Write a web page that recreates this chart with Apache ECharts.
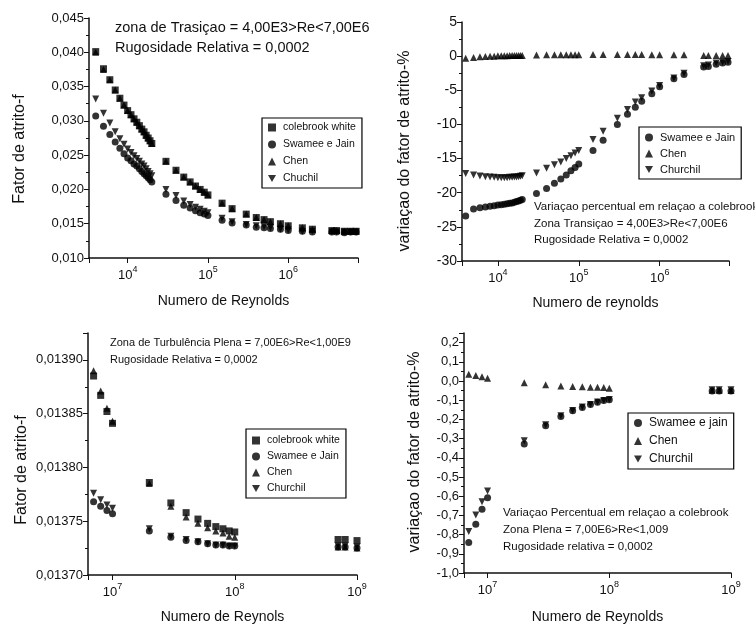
<!DOCTYPE html>
<html><head><meta charset="utf-8">
<script src="https://cdn.jsdelivr.net/npm/echarts@6/dist/echarts.min.js"></script>
<style>html,body{margin:0;padding:0;background:#fff}#c{width:755px;height:630px}</style>
</head><body><div id="c"></div>
<script>
// ---------- Transition zone (top panels) ----------
const reT = [4000,5000,6000,7000,8000,9000,10000,11000,12000,13000,14000,15000,16000,17000,18000,19000,20000,
  30000,40000,50000,60000,70000,80000,90000,100000,
  150000,200000,300000,400000,500000,600000,800000,1000000,1500000,2000000,3500000,4000000,5000000,6000000,7000000];
const colebrookT = [0.0401,0.0376,0.0360,0.0345,0.0333,0.0323,0.0315,0.0309,0.0303,0.0298,0.0293,0.0288,0.0284,0.0279,0.0275,0.0271,0.0267,
  0.0241,0.0228,0.0218,0.0211,0.0205,0.0200,0.0196,0.0192,
  0.0180,0.0172,0.0164,0.0159,0.0156,0.0153,0.0150,0.0147,0.0144,0.0142,0.0140,0.0140,0.0139,0.0139,0.0139];
const swameeT = [0.0307,0.0292,0.0280,0.0269,0.0260,0.0252,0.0246,0.0242,0.0237,0.0234,0.0230,0.0226,0.0223,0.0220,0.0217,0.0214,0.0211,
  0.0193,0.0184,0.0177,0.0173,0.0169,0.0166,0.0164,0.0162,
  0.0155,0.0151,0.0148,0.0145,0.0144,0.0143,0.0142,0.0140,0.0139,0.0138,0.0138,0.0138,0.0137,0.0138,0.0138];
const chenT = [0.0400,0.0375,0.0360,0.0345,0.0333,0.0323,0.0315,0.0309,0.0303,0.0298,0.0293,0.0288,0.0284,0.0279,0.0275,0.0271,0.0267,
  0.0241,0.0228,0.0218,0.0211,0.0205,0.0200,0.0196,0.0192,
  0.0180,0.0172,0.0164,0.0159,0.0156,0.0153,0.0150,0.0147,0.0144,0.0142,0.0140,0.0140,0.0139,0.0139,0.0139];
const churchillT = [0.0332,0.0311,0.0297,0.0284,0.0274,0.0266,0.0259,0.0254,0.0249,0.0245,0.0241,0.0237,0.0234,0.0230,0.0226,0.0223,0.0220,
  0.0200,0.0191,0.0183,0.0178,0.0174,0.0171,0.0168,0.0166,
  0.0158,0.0153,0.0149,0.0147,0.0146,0.0144,0.0142,0.0141,0.0139,0.0139,0.0138,0.0138,0.0138,0.0138,0.0138];
const swameePctT = [-23.4,-22.4,-22.2,-22.1,-22.0,-21.9,-21.8,-21.75,-21.7,-21.6,-21.55,-21.5,-21.4,-21.3,-21.2,-21.1,-21.0,
  -20.1,-19.4,-18.6,-18.0,-17.4,-16.8,-16.3,-15.8,
  -13.8,-12.3,-10.0,-8.5,-7.5,-6.6,-5.5,-4.5,-3.3,-2.7,-1.6,-1.5,-1.2,-1.0,-0.9];
const chenPctT = [-0.3,-0.2,-0.1,-0.05,0.0,0.0,0.05,0.05,0.05,0.05,0.1,0.1,0.1,0.1,0.1,0.1,0.1,
  0.15,0.2,0.2,0.2,0.2,0.2,0.2,0.2,
  0.25,0.25,0.25,0.25,0.25,0.25,0.2,0.2,0.2,0.2,0.1,0.1,0.1,0.1,0.1];
const churchillPctT = [-17.2,-17.4,-17.55,-17.65,-17.7,-17.75,-17.8,-17.8,-17.8,-17.8,-17.75,-17.75,-17.7,-17.7,-17.65,-17.6,-17.5,
  -17.1,-16.4,-15.9,-15.5,-15.0,-14.6,-14.2,-13.8,
  -12.2,-11.0,-9.1,-7.8,-6.7,-6.1,-5.1,-4.3,-3.2,-2.5,-1.4,-1.3,-1.0,-0.9,-0.8];

// ---------- Full turbulence zone (bottom panels) ----------
const reP = [7e6,8e6,9e6,1e7,2e7,3e7,4e7,5e7,6e7,7e7,8e7,9e7,1e8,7e8,8e8,1e9];
const colebrookP = [0.013885,0.013867,0.013852,0.013841,0.013786,0.013767,0.013758,0.013752,0.013748,0.013745,0.013743,0.013741,0.013740,0.013733,0.013733,0.013732];
const swameeP = [0.013768,0.013764,0.013760,0.013757,0.013741,0.013735,0.013732,0.013731,0.013729,0.013728,0.013728,0.013727,0.013727,0.013726,0.013726,0.013725];
const chenP = [0.013890,0.013871,0.013855,0.013843,0.013785,0.013764,0.013754,0.013748,0.013744,0.013741,0.013739,0.013736,0.013735,0.013726,0.013726,0.013725];
const churchillP = [0.013776,0.013770,0.013765,0.013762,0.013743,0.013736,0.013733,0.013731,0.013729,0.013728,0.013728,0.013727,0.013727,0.013727,0.013727,0.013726];
const swameePctP = [-0.841,-0.746,-0.668,-0.608,-0.328,-0.233,-0.185,-0.155,-0.138,-0.123,-0.111,-0.102,-0.098,-0.052,-0.052,-0.052];
const chenPctP = [0.035,0.028,0.022,0.014,-0.009,-0.020,-0.026,-0.029,-0.030,-0.033,-0.033,-0.034,-0.038,-0.048,-0.048,-0.050];
const churchillPctP = [-0.784,-0.698,-0.629,-0.573,-0.311,-0.228,-0.181,-0.153,-0.136,-0.122,-0.110,-0.101,-0.097,-0.045,-0.045,-0.046];

const FONT = '"Liberation Sans", Arial, sans-serif';
const INK = '#111';
const DOWN = 'path://M0,0L10,0L5,9Z';

function zip(xs, ys){ return xs.map((x,i)=>[x, ys[i]]); }

function logAxis(idx, min, max, name, gap){
  return {
    type:'log', gridIndex: idx, min, max, logBase:10,
    name, nameLocation:'middle', nameGap: gap,
    nameTextStyle:{fontFamily:FONT, fontSize:14, color:INK},
    axisLine:{show:true, onZero:false, lineStyle:{color:INK, width:1.5}},
    axisTick:{show:true, length:5, inside:false, lineStyle:{color:INK, width:1}},
    splitLine:{show:false},
    axisLabel:{
      color:INK, fontFamily:FONT, margin:7,
      formatter:function(v){
        const l = Math.log10(v), e = Math.round(l);
        if (Math.abs(l-e) > 1e-6) return '';
        return '{b|10}{s|' + e + '}';
      },
      rich:{
        b:{fontSize:13, fontFamily:FONT, color:INK, verticalAlign:'bottom', lineHeight:17},
        s:{fontSize:9, fontFamily:FONT, color:INK, verticalAlign:'top', lineHeight:9}
      }
    }
  };
}
function valAxis(idx, min, max, interval, dec, fs){
  return {
    type:'value', gridIndex: idx, min, max, interval,
    axisLine:{show:true, onZero:false, lineStyle:{color:INK, width:1.5}},
    axisTick:{show:true, length:5, lineStyle:{color:INK, width:1}},
    minorTick:{show:true, splitNumber:2, length:3, lineStyle:{color:INK, width:1}},
    splitLine:{show:false},
    axisLabel:{
      color:INK, fontFamily:FONT, fontSize:fs, margin:5,
      formatter:function(v){
        const k = (v - min)/interval;
        if (Math.abs(k - Math.round(k)) > 1e-6) return '';
        let s = (Math.abs(v) < interval/1000 ? 0 : v).toFixed(dec);
        return s.replace('.', ',');
      }
    }
  };
}
function sc(name, xi, yi, data, symbol, rot){
  return {
    type:'scatter', name, xAxisIndex: xi, yAxisIndex: yi, data,
    symbol, symbolSize: 7, symbolRotate: rot||0,
    itemStyle:{color:'#000'}, emphasis:{disabled:true}, silent:true
  };
}
function legend(names, left, top, fs, gap, pad){
  return {
    data: names, orient:'vertical', left, top, selectedMode:false,
    borderColor:'#000', borderWidth:1.2, borderRadius:0,
    padding: pad, itemGap: gap, itemWidth:8, itemHeight:8,
    textStyle:{fontFamily:FONT, fontSize:fs, color:INK, padding:[0,0,0,2]}
  };
}
function txt(x, y, text, fs){
  return {type:'text', x, y, silent:true,
    style:{text, fontFamily:FONT, fontSize:fs, fill:INK, verticalAlign:'middle', align:'left'}};
}
function vtxt(x, y, text, fs){
  return {type:'text', x, y, rotation:Math.PI/2, silent:true,
    style:{text, fontFamily:FONT, fontSize:fs, fill:INK, verticalAlign:'middle', align:'center'}};
}

const chart = echarts.init(document.getElementById('c'), null, {renderer:'canvas'});
chart.setOption({
  animation:false,
  backgroundColor:'#fff',
  grid:[
    {left:89, top:18, width:269, height:240},
    {left:462, top:22, width:267, height:239},
    {left:88, top:333, width:269, height:242},
    {left:464, top:333, width:267, height:240}
  ],
  xAxis:[
    logAxis(0, 3300, 7.4e6, 'Numero de Reynolds', 36),
    logAxis(1, 3600, 7.2e6, 'Numero de reynolds', 35),
    logAxis(2, 6.3e6, 1e9, 'Numero de Reynols', 35),
    logAxis(3, 6.4e6, 1e9, 'Numero de Reynolds', 37)
  ],
  yAxis:[
    valAxis(0, 0.010, 0.045, 0.005, 3, 13),
    valAxis(1, -30, 5, 5, 0, 14),
    valAxis(2, 0.0137, 0.013925, 0.00005, 5, 13),
    valAxis(3, -1.0, 0.25, 0.1, 1, 13)
  ],
  legend:[
    legend(['colebrook white','Swamee e Jain','Chen','Chuchil'], 262, 118, 10.5, 6, [4,6,4,6]),
    legend(['Swamee e Jain','Chen','Churchil'], 639, 127, 11, 5, [5,6,4,6]),
    legend(['colebrook white','Swamee e Jain','Chen','Churchil'], 246, 429, 10.5, 5, [6,6,4,6]),
    legend(['Swamee e jain','Chen','Churchil'], 628, 413, 12, 6, [4,6,4,6])
  ],
  graphic:[
    txt(115, 28, 'zona de Trasiçao = 4,00E3>Re<7,00E6', 14.5),
    txt(115, 48, 'Rugosidade Relativa = 0,0002', 14.5),
    txt(534, 207, 'Variaçao percentual em relaçao a colebrook', 11.5),
    txt(534, 224, 'Zona Transiçao = 4,00E3>Re<7,00E6', 11.5),
    txt(534, 240, 'Rugosidade Relativa = 0,0002', 11.5),
    txt(110, 343, 'Zona de Turbulência Plena = 7,00E6>Re<1,00E9', 11),
    txt(110, 360, 'Rugosidade Relativa = 0,0002', 11),
    txt(503, 513, 'Variaçao Percentual em relaçao a colebrook', 11.5),
    txt(503, 530, 'Zona Plena = 7,00E6>Re<1,009', 11.5),
    txt(503, 547, 'Rugosidade relativa = 0,0002', 11.5),
    vtxt(20, 149, 'Fator de atrito-f', 16),
    vtxt(405, 151, 'variaçao do fator de atrito-%', 16),
    vtxt(22, 470, 'Fator de atrito-f', 16),
    vtxt(415, 452, 'variaçao do fator de atrito-%', 16)
  ],
  series:[
    sc('colebrook white', 0, 0, zip(reT, colebrookT), 'rect'),
    sc('Swamee e Jain', 0, 0, zip(reT, swameeT), 'circle'),
    sc('Chen', 0, 0, zip(reT, chenT), 'triangle'),
    sc('Chuchil', 0, 0, zip(reT, churchillT), DOWN),

    sc('Swamee e Jain', 1, 1, zip(reT, swameePctT), 'circle'),
    sc('Chen', 1, 1, zip(reT, chenPctT), 'triangle'),
    sc('Churchil', 1, 1, zip(reT, churchillPctT), DOWN),

    sc('colebrook white', 2, 2, zip(reP, colebrookP), 'rect'),
    sc('Swamee e Jain', 2, 2, zip(reP, swameeP), 'circle'),
    sc('Chen', 2, 2, zip(reP, chenP), 'triangle'),
    sc('Churchil', 2, 2, zip(reP, churchillP), DOWN),

    sc('Swamee e jain', 3, 3, zip(reP, swameePctP), 'circle'),
    sc('Chen', 3, 3, zip(reP, chenPctP), 'triangle'),
    sc('Churchil', 3, 3, zip(reP, churchillPctP), DOWN)
  ]
});
</script></body></html>
